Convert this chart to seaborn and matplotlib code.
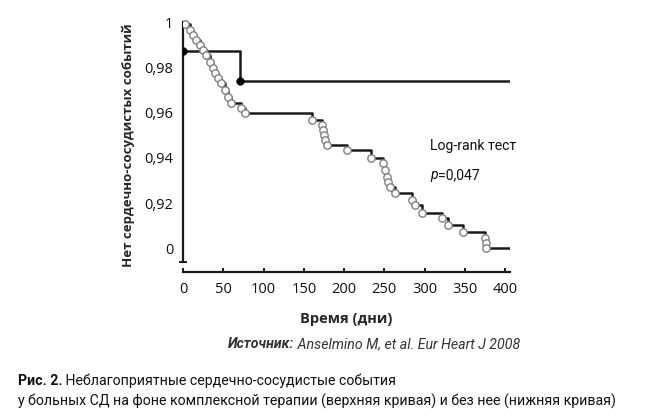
import matplotlib
matplotlib.use("Agg")
import matplotlib.pyplot as plt
import seaborn as sns

# upper curve (with combined therapy)
upper_t = [0, 70.8, 406]
upper_s = [0.9873, 0.974, 0.974]
upper_mark_t = [0, 70.8]
upper_mark_s = [0.9873, 0.974]

# lower curve (without therapy)
lower_t = [0, 2.5, 8.7, 12.4, 16.1, 21.1, 24.8, 28.6, 33.5, 37.3, 39.8, 43.5, 47.2,
           52.2, 55.9, 59.6, 72, 77, 160, 172.7, 174, 174.5, 176.4, 179, 204, 233.5,
           248, 251, 253, 255, 257, 263, 284.5, 288, 297, 322, 329, 348, 375, 376,
           376.5, 406]
lower_s = [1.0, 0.9991, 0.9965, 0.9943, 0.9921, 0.9898, 0.9876, 0.9854, 0.9823, 0.9797,
           0.9775, 0.9753, 0.9731, 0.9700, 0.9669, 0.9642, 0.9620, 0.9598, 0.9567, 0.9545,
           0.9523, 0.9501, 0.9479, 0.9459, 0.9435, 0.9400, 0.9377, 0.9347, 0.9316, 0.9294,
           0.9272, 0.9245, 0.9214, 0.9192, 0.9157, 0.9135, 0.9104, 0.9073, 0.9046, 0.9024,
           0.9002, 0.9002]

x_ticks = [0, 50, 100, 150, 200, 250, 300, 350, 400]
y_ticks = [0.90, 0.92, 0.94, 0.96, 0.98, 1.0]
y_labels = ["0", "0,92", "0,94", "0,96", "0,98", "1"]

sns.set_style("ticks")
plt.rcParams["font.family"] = ["Open Sans", "DejaVu Sans"]
NARROW = ["Roboto", "DejaVu Sans"]

W, H = 648.0, 418.0
fig = plt.figure(figsize=(6.48, 4.18), dpi=100)
ax = fig.add_axes([183 / W, 1 - 272 / H, (510 - 183) / W, (272 - 18) / H])

line_col = "#1a1a1a"
sns.lineplot(x=upper_t, y=upper_s, drawstyle="steps-post", color=line_col, lw=1.8, ax=ax)
sns.lineplot(x=lower_t, y=lower_s, drawstyle="steps-post", color=line_col, lw=1.8, ax=ax)
sns.scatterplot(x=lower_t[1:-1], y=lower_s[1:-1], s=28, color="white", edgecolor="#808080",
                linewidth=1.0, zorder=5, ax=ax)
sns.scatterplot(x=upper_mark_t, y=upper_mark_s, s=30, color="black", edgecolor="black",
                zorder=6, ax=ax)

ax.set_xlim(0, 406)
ax.set_ylim(0.8896, 1.0018)
ax.spines["top"].set_visible(False)
ax.spines["right"].set_visible(False)
for sp in ("left", "bottom"):
    ax.spines[sp].set_linewidth(1.6)
    ax.spines[sp].set_color(line_col)
ax.spines["left"].set_bounds(0.894, 1.0)

ax.set_xticks(x_ticks)
ax.set_yticks(y_ticks)
ax.set_yticklabels(y_labels)
ax.tick_params(axis="x", direction="in", length=3, width=1.4, color=line_col,
               pad=7, labelsize=10.5, labelcolor="#111111")
ax.tick_params(axis="y", length=0, pad=7, labelsize=10.5, labelcolor="#111111")
ax.set_yticks([0.894], minor=True)
ax.tick_params(axis="y", which="minor", direction="inout", length=6, width=1.4, color=line_col)

ax.set_xlabel("Время (дни)", fontsize=10.5, fontweight="bold", labelpad=11)
ax.set_ylabel("Нет сердечно-сосудистых событий", fontsize=9.5, fontweight="bold", labelpad=7)

fig.canvas.draw()
r = fig.canvas.get_renderer()


def fit(t, width_px):
    bb = t.get_window_extent(r)
    t.set_fontsize(t.get_fontsize() * width_px / bb.width)


def place_after(t, y_px, s, **kw):
    bb = t.get_window_extent(r)
    return fig.text(bb.x1 / W, 1 - y_px / H, s, va="center", **kw)


# log-rank annotation
lr = fig.text(430 / W, 1 - 146 / H, "Log-rank тест", family=NARROW, fontsize=12,
              va="center", color="#111111")
fit(lr, 86)
fs_lr = lr.get_fontsize()
pt = fig.text(430 / W, 1 - 175 / H, "p", family=NARROW, fontsize=fs_lr, style="italic",
              va="center", color="#111111")
place_after(pt, 175, "=0,047", family=NARROW, fontsize=fs_lr, color="#111111")

# source line
src1 = fig.text(228 / W, 1 - 344 / H, "Источник:", family=NARROW, fontsize=11,
                style="italic", fontweight="bold", color="#333333", va="center")
src2 = place_after(src1, 344, " Anselmino M, et al. Eur Heart J 2008", family=NARROW,
                   fontsize=11, style="italic", color="#333333")
tot = src2.get_window_extent(r).x1 - src1.get_window_extent(r).x0
for t in (src1, src2):
    t.set_fontsize(11 * 292 / tot)
src2.set_x(src1.get_window_extent(r).x1 / W)

# caption
cap3 = fig.text(18 / W, 1 - 401 / H,
                "у больных СД на фоне комплексной терапии (верхняя кривая) и без нее (нижняя кривая)",
                family=NARROW, fontsize=12, color="#111111", va="center")
fit(cap3, 594)
fs_cap = cap3.get_fontsize()
cap1 = fig.text(18 / W, 1 - 381 / H, "Рис. 2.", family=NARROW, fontsize=fs_cap,
                fontweight="bold", color="#111111", va="center")
place_after(cap1, 381, " Неблагоприятные сердечно-сосудистые события", family=NARROW,
            fontsize=fs_cap, color="#111111")

fig.savefig("out.png", dpi=100)
